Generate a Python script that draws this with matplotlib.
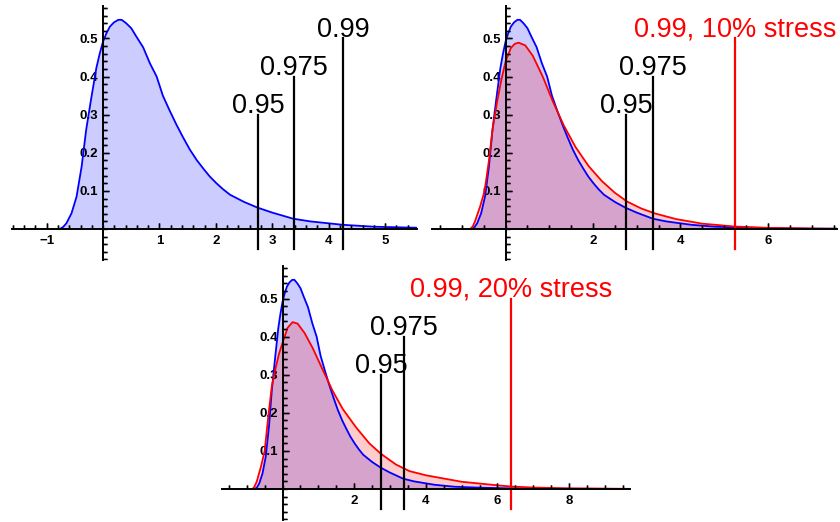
import numpy as np
import matplotlib
matplotlib.use("Agg")
import matplotlib.pyplot as plt
from matplotlib.ticker import FixedLocator

plt.rcParams['font.family'] = ['Liberation Sans', 'DejaVu Sans']

# base density (blue)
blue_x = [-0.77, -0.71, -0.65, -0.56, -0.47, -0.38, -0.30, -0.21, -0.12, -0.06, 0.0,
          0.06, 0.12, 0.19, 0.27, 0.33, 0.41, 0.50, 0.59, 0.71, 0.83, 0.95, 1.06, 1.18,
          1.30, 1.42, 1.54, 1.66, 1.78, 1.89, 2.01, 2.13, 2.25, 2.5, 2.74, 3.0, 3.37,
          3.67, 4.25, 4.8, 5.5, 6.2, 7.0, 8.0, 9.7]
blue_y = [0, 0.005, 0.015, 0.041, 0.085, 0.164, 0.26, 0.343, 0.422, 0.46, 0.492,
          0.514, 0.531, 0.542, 0.549, 0.549, 0.540, 0.527, 0.505, 0.477, 0.435, 0.400,
          0.350, 0.311, 0.274, 0.240, 0.208, 0.181, 0.158, 0.138, 0.120, 0.104, 0.090,
          0.071, 0.056, 0.043, 0.027, 0.020, 0.011, 0.006, 0.0035, 0.002, 0.001, 0.0005,
          0.0002]

# 10% stress density (red, top right)
red10_x = [-0.81, -0.75, -0.70, -0.58, -0.48, -0.38, -0.30, -0.20, -0.10, 0.0, 0.12,
           0.21, 0.30, 0.45, 0.62, 0.85, 1.08, 1.33, 1.6, 1.9, 2.2, 2.5, 2.78, 3.1, 3.41,
           3.9, 4.5, 5.24, 6.0, 7.0, 7.6]
red10_y = [0, 0.007, 0.02, 0.06, 0.10, 0.18, 0.26, 0.33, 0.39, 0.44, 0.475,
           0.486, 0.489, 0.482, 0.455, 0.40, 0.335, 0.272, 0.215, 0.165, 0.126, 0.095,
           0.072, 0.054, 0.041, 0.026, 0.014, 0.0065, 0.003, 0.0012, 0.0006]

# 20% stress density (red, bottom)
red20_x = [-0.84, -0.78, -0.72, -0.60, -0.50, -0.40, -0.30, -0.20, -0.10, 0.0, 0.14,
           0.28, 0.42, 0.61, 0.84, 1.12, 1.40, 1.68, 2.05, 2.42, 2.75, 3.17, 3.54, 4.0,
           5.0, 6.0, 6.38, 7.0, 8.0, 9.7]
red20_y = [0, 0.007, 0.02, 0.06, 0.10, 0.19, 0.27, 0.315, 0.355, 0.384, 0.423,
           0.438, 0.434, 0.41, 0.37, 0.313, 0.257, 0.21, 0.162, 0.12, 0.092, 0.064,
           0.047, 0.036, 0.019, 0.0096, 0.0065, 0.0038, 0.0018, 0.0004]

# quantile markers: position, line height, label
q_black = [(2.75, 0.3, "0.95"), (3.38, 0.4, "0.975")]
q99_base = (4.26, 0.5, "0.99")
q99_10 = (5.24, 0.5, "0.99, 10% stress")
q99_20 = (6.38, 0.5, "0.99, 20% stress")

y_major = [0.1, 0.2, 0.3, 0.4, 0.5]
y_labels = ["0.1", "0.2", "0.3", "0.4", "0.5"]

fig = plt.figure(figsize=(8.4, 5.22), dpi=100)
W, H = 840.0, 522.0
YLIM = (-0.082, 0.585)
PPU_Y = 381.0


def new_axes(left_px, right_px, axis_py, xlim):
    top = axis_py - YLIM[1] * PPU_Y
    bot = axis_py - YLIM[0] * PPU_Y
    ax = fig.add_axes([left_px / W, (H - bot) / H, (right_px - left_px) / W, (bot - top) / H])
    ax.set_xlim(*xlim)
    ax.set_ylim(*YLIM)
    return ax


def style_axes(ax, major_x, minor_step):
    xlim = ax.get_xlim()
    ppu_x = ax.get_position().width * W / (xlim[1] - xlim[0])
    ax.patch.set_visible(False)
    for s in ("top", "right"):
        ax.spines[s].set_visible(False)
    for s in ("left", "bottom"):
        ax.spines[s].set_position(("data", 0))
        ax.spines[s].set_linewidth(1.4)
    mx = np.arange(np.ceil(xlim[0] / minor_step), np.floor(xlim[1] / minor_step) + 1) * minor_step
    my = np.arange(-4, 30) * 0.02
    ax.xaxis.set_minor_locator(FixedLocator(mx))
    ax.yaxis.set_minor_locator(FixedLocator(my))
    ax.set_xticks(major_x, [("\u2212%d" % -v) if v < 0 else "%d" % v for v in major_x],
                  fontweight="bold", fontsize=9.5)
    ax.set_yticks(y_major, y_labels, fontweight="bold", fontsize=9.5)
    ax.tick_params(which="both", direction="in", width=1.0, color="black")
    ax.tick_params(which="major", length=4.5)
    ax.tick_params(which="minor", length=3)
    ax.tick_params(axis="x", which="major", pad=4.5)

    # tick comb along both axes (inward, like the Mathematica axes)
    mx = [v for v in mx if not np.isclose(v, major_x).any() and not np.isclose(v, 0)]
    my = [v for v in my if not np.isclose(v, y_major).any() and not np.isclose(v, 0)]
    big, small = 6.0, 4.0  # pixels
    ax.vlines(major_x, 0, big / PPU_Y, color="black", lw=1.0, zorder=2.6)
    ax.vlines(mx, 0, small / PPU_Y, color="black", lw=1.0, zorder=2.6)
    ax.hlines(y_major, 0, big / ppu_x, color="black", lw=1.0, zorder=2.6)
    ax.hlines(my, 0, small / ppu_x, color="black", lw=1.0, zorder=2.6)

    ax.set_xlim(*xlim)
    ax.set_ylim(*YLIM)


def density(ax, x, y, color):
    ax.fill_between(x, y, 0, color=color, alpha=0.2, lw=0)


def curve(ax, x, y, color):
    ax.plot(x, y, color=color, lw=1.3, solid_joinstyle="round")


def quantile(ax, q, color):
    xq, h, txt = q
    ax.plot([xq, xq], [-0.052, h], color=color, lw=1.6)
    ax.text(xq, h + 0.004, txt, ha="center", va="baseline", fontsize=19.5, color=color)


# top left
ax1 = new_axes(11.7, 416.7, 229, (-1.62, 5.56))
density(ax1, blue_x, blue_y, "blue")
curve(ax1, blue_x, blue_y, "blue")
for q in q_black + [q99_base]:
    quantile(ax1, q, "black")

# top right
ax2 = new_axes(431.7, 837, 229, (-1.69, 7.58))
density(ax2, blue_x, blue_y, "blue")
density(ax2, red10_x, red10_y, "red")
curve(ax2, blue_x, blue_y, "blue")
curve(ax2, red10_x, red10_y, "red")
for q in q_black:
    quantile(ax2, q, "black")
quantile(ax2, q99_10, "red")

# bottom
ax3 = new_axes(221.7, 630, 489, (-1.70, 9.70))
density(ax3, blue_x, blue_y, "blue")
density(ax3, red20_x, red20_y, "red")
curve(ax3, blue_x, blue_y, "blue")
curve(ax3, red20_x, red20_y, "red")
for q in q_black:
    quantile(ax3, q, "black")
quantile(ax3, q99_20, "red")

# axes styling last
style_axes(ax1, [-1, 1, 2, 3, 4, 5], 0.2)
style_axes(ax2, [2, 4, 6], 0.5)
style_axes(ax3, [2, 4, 6, 8], 0.5)

fig.savefig("out.png", dpi=100)
